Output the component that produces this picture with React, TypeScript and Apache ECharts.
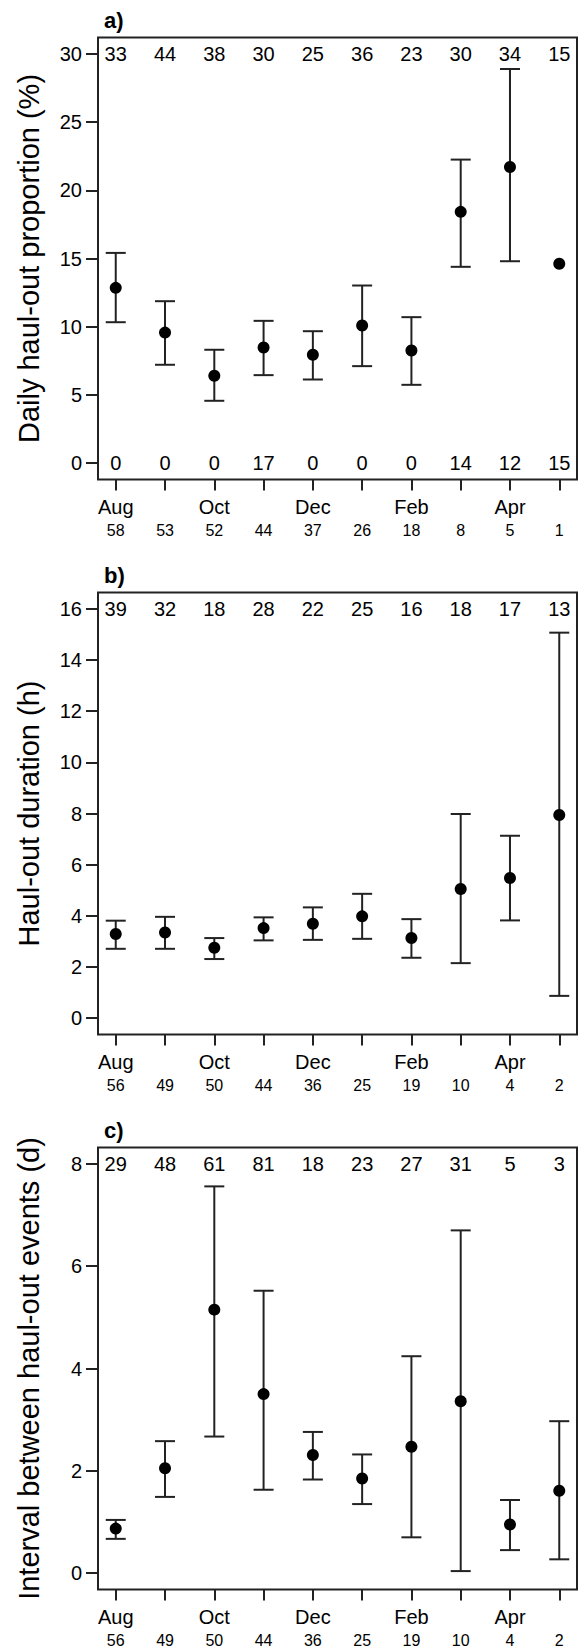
import React, { useEffect, useRef } from "react";
import * as echarts from "echarts";

const xPos = [1, 2, 3, 4, 5, 6, 7, 8, 9, 10];
const monthLabels = ["Aug", "", "Oct", "", "Dec", "", "Feb", "", "Apr", ""];

// Panel a: daily haul-out proportion (%)
const aMean = [12.85, 9.57, 6.4, 8.48, 7.94, 10.09, 8.26, 18.42, 21.71, 14.61];
const aUpper = [15.41, 11.87, 8.31, 10.43, 9.67, 13.02, 10.7, 22.25, 28.89, null];
const aLower = [10.33, 7.21, 4.57, 6.45, 6.13, 7.11, 5.74, 14.39, 14.8, null];
const aTop = [33, 44, 38, 30, 25, 36, 23, 30, 34, 15];
const aBottom = [0, 0, 0, 17, 0, 0, 0, 14, 12, 15];
const aN = [58, 53, 52, 44, 37, 26, 18, 8, 5, 1];
const aTicks = [0, 5, 10, 15, 20, 25, 30];

// Panel b: haul-out duration (h)
const bMean = [3.29, 3.35, 2.75, 3.52, 3.69, 3.98, 3.13, 5.05, 5.48, 7.94];
const bUpper = [3.81, 3.96, 3.13, 3.94, 4.33, 4.86, 3.87, 7.98, 7.13, 15.07];
const bLower = [2.71, 2.71, 2.31, 3.04, 3.06, 3.1, 2.36, 2.15, 3.82, 0.87];
const bTop = [39, 32, 18, 28, 22, 25, 16, 18, 17, 13];
const bN = [56, 49, 50, 44, 36, 25, 19, 10, 4, 2];
const bTicks = [0, 2, 4, 6, 8, 10, 12, 14, 16];

// Panel c: interval between haul-out events (d)
const cMean = [0.87, 2.05, 5.15, 3.5, 2.31, 1.85, 2.47, 3.36, 0.95, 1.61];
const cUpper = [1.04, 2.58, 7.56, 5.52, 2.76, 2.32, 4.24, 6.7, 1.43, 2.97];
const cLower = [0.67, 1.49, 2.67, 1.63, 1.83, 1.35, 0.7, 0.04, 0.45, 0.27];
const cTop = [29, 48, 61, 81, 18, 23, 27, 31, 5, 3];
const cN = [56, 49, 50, 44, 36, 25, 19, 10, 4, 2];
const cTicks = [0, 2, 4, 6, 8];

const FONT = "Liberation Sans, Arial, sans-serif";
const INK = "#000";
const LINE = "#222";

type Panel = {
  title: string;
  name: string;
  mean: number[];
  upper: (number | null)[];
  lower: (number | null)[];
  top: number[];
  bottom: number[] | null;
  n: number[];
  ticks: number[];
  min: number;
  max: number;
  gridTop: number;
};

const panels: Panel[] = [
  { title: "a)", name: "Daily haul-out proportion (%)", mean: aMean, upper: aUpper, lower: aLower, top: aTop, bottom: aBottom, n: aN, ticks: aTicks, min: -1.2, max: 31.2, gridTop: 37.5 },
  { title: "b)", name: "Haul-out duration (h)", mean: bMean, upper: bUpper, lower: bLower, top: bTop, bottom: null, n: bN, ticks: bTicks, min: -0.64, max: 16.64, gridTop: 592.5 },
  { title: "c)", name: "Interval between haul-out events (d)", mean: cMean, upper: cUpper, lower: cLower, top: cTop, bottom: null, n: cN, ticks: cTicks, min: -0.32, max: 8.32, gridTop: 1147.5 },
];

const countLabel = {
  show: true,
  position: [0, 0],
  align: "center",
  verticalAlign: "middle",
  formatter: (d: any) => String(d.value[2]),
  fontSize: 20,
  fontFamily: FONT,
  color: INK,
  opacity: 1,
  textBorderWidth: 0,
};

function buildOption() {
  const grid: any[] = [];
  const xAxis: any[] = [];
  const yAxis: any[] = [];
  const series: any[] = [];
  const title: any[] = [];

  panels.forEach((p, i) => {
    grid.push({
      left: 98,
      right: 2,
      top: p.gridTop,
      height: 442,
      show: true,
      borderColor: LINE,
      borderWidth: 2,
      backgroundColor: "transparent",
    });
    title.push({
      text: p.title,
      left: 104,
      top: p.gridTop - 28.5,
      padding: 0,
      textStyle: { fontSize: 22, fontWeight: "bold", fontFamily: FONT, color: INK },
    });
    xAxis.push({
      type: "value",
      gridIndex: i,
      min: 0.64,
      max: 10.36,
      position: "bottom",
      axisLine: { show: false, onZero: false },
      splitLine: { show: false },
      axisTick: { show: true, length: 11, customValues: xPos, lineStyle: { color: LINE, width: 2 } },
      axisLabel: {
        show: true,
        customValues: xPos,
        margin: 16,
        fontFamily: FONT,
        color: INK,
        formatter: (v: number) => {
          const k = Math.round(v) - 1;
          const m = monthLabels[k] || " ";
          return "{m|" + m + "}\n{n|" + p.n[k] + "}";
        },
        rich: {
          m: { fontSize: 20, lineHeight: 22, fontFamily: FONT, color: INK, align: "center" },
          n: { fontSize: 16, lineHeight: 25, fontFamily: FONT, color: INK, align: "center" },
        },
      },
    });
    yAxis.push({
      type: "value",
      gridIndex: i,
      min: p.min,
      max: p.max,
      name: p.name,
      nameLocation: "middle",
      nameRotate: 90,
      nameGap: 55,
      nameTextStyle: { fontSize: 29, fontFamily: FONT, color: INK },
      axisLine: { show: false, onZero: false },
      splitLine: { show: false },
      axisTick: { show: true, length: 12, customValues: p.ticks, lineStyle: { color: LINE, width: 2 } },
      axisLabel: {
        show: true,
        customValues: p.ticks,
        margin: 16,
        fontSize: 20,
        fontFamily: FONT,
        color: INK,
      },
    });

    const errData = xPos
      .map((x, k) => [x, p.lower[k], p.upper[k]])
      .filter((d) => d[1] != null && d[2] != null);

    series.push({
      type: "custom",
      xAxisIndex: i,
      yAxisIndex: i,
      data: errData,
      z: 2,
      silent: true,
      renderItem: (params: any, api: any) => {
        const x = api.value(0);
        const lo = api.value(1);
        const hi = api.value(2);
        const t = api.coord([x, hi]);
        const b = api.coord([x, lo]);
        const w = 10;
        const style = { stroke: LINE, lineWidth: 2 };
        return {
          type: "group",
          children: [
            { type: "line", shape: { x1: t[0], y1: t[1], x2: b[0], y2: b[1] }, style },
            { type: "line", shape: { x1: t[0] - w, y1: t[1], x2: t[0] + w, y2: t[1] }, style },
            { type: "line", shape: { x1: b[0] - w, y1: b[1], x2: b[0] + w, y2: b[1] }, style },
          ],
        };
      },
    });

    series.push({
      type: "scatter",
      xAxisIndex: i,
      yAxisIndex: i,
      data: xPos.map((x, k) => [x, p.mean[k]]),
      symbol: "circle",
      symbolSize: 12,
      itemStyle: { color: "#000", opacity: 1 },
      silent: true,
      z: 3,
    });

    const topY = p.ticks[p.ticks.length - 1];
    series.push({
      type: "scatter",
      xAxisIndex: i,
      yAxisIndex: i,
      data: xPos.map((x, k) => [x, topY, p.top[k]]),
      symbolSize: 0,
      silent: true,
      itemStyle: { opacity: 1 },
      label: countLabel,
      z: 4,
    });

    if (p.bottom) {
      series.push({
        type: "scatter",
        xAxisIndex: i,
        yAxisIndex: i,
        data: xPos.map((x, k) => [x, 0, (p.bottom as number[])[k]]),
        symbolSize: 0,
        silent: true,
        itemStyle: { opacity: 1 },
        label: countLabel,
        z: 4,
      });
    }
  });

  return {
    animation: false,
    backgroundColor: "#fff",
    textStyle: { fontFamily: FONT },
    title,
    grid,
    xAxis,
    yAxis,
    series,
  };
}

export default function App() {
  const ref = useRef<HTMLDivElement>(null);
  useEffect(() => {
    if (!ref.current) return;
    const chart = echarts.init(ref.current, undefined, { renderer: "svg" });
    chart.setOption(buildOption() as any);
    return () => chart.dispose();
  }, []);
  return (
    <div
      ref={ref}
      style={{ position: "absolute", left: 0, top: 0, width: 579, height: 1652, background: "#fff" }}
    />
  );
}
